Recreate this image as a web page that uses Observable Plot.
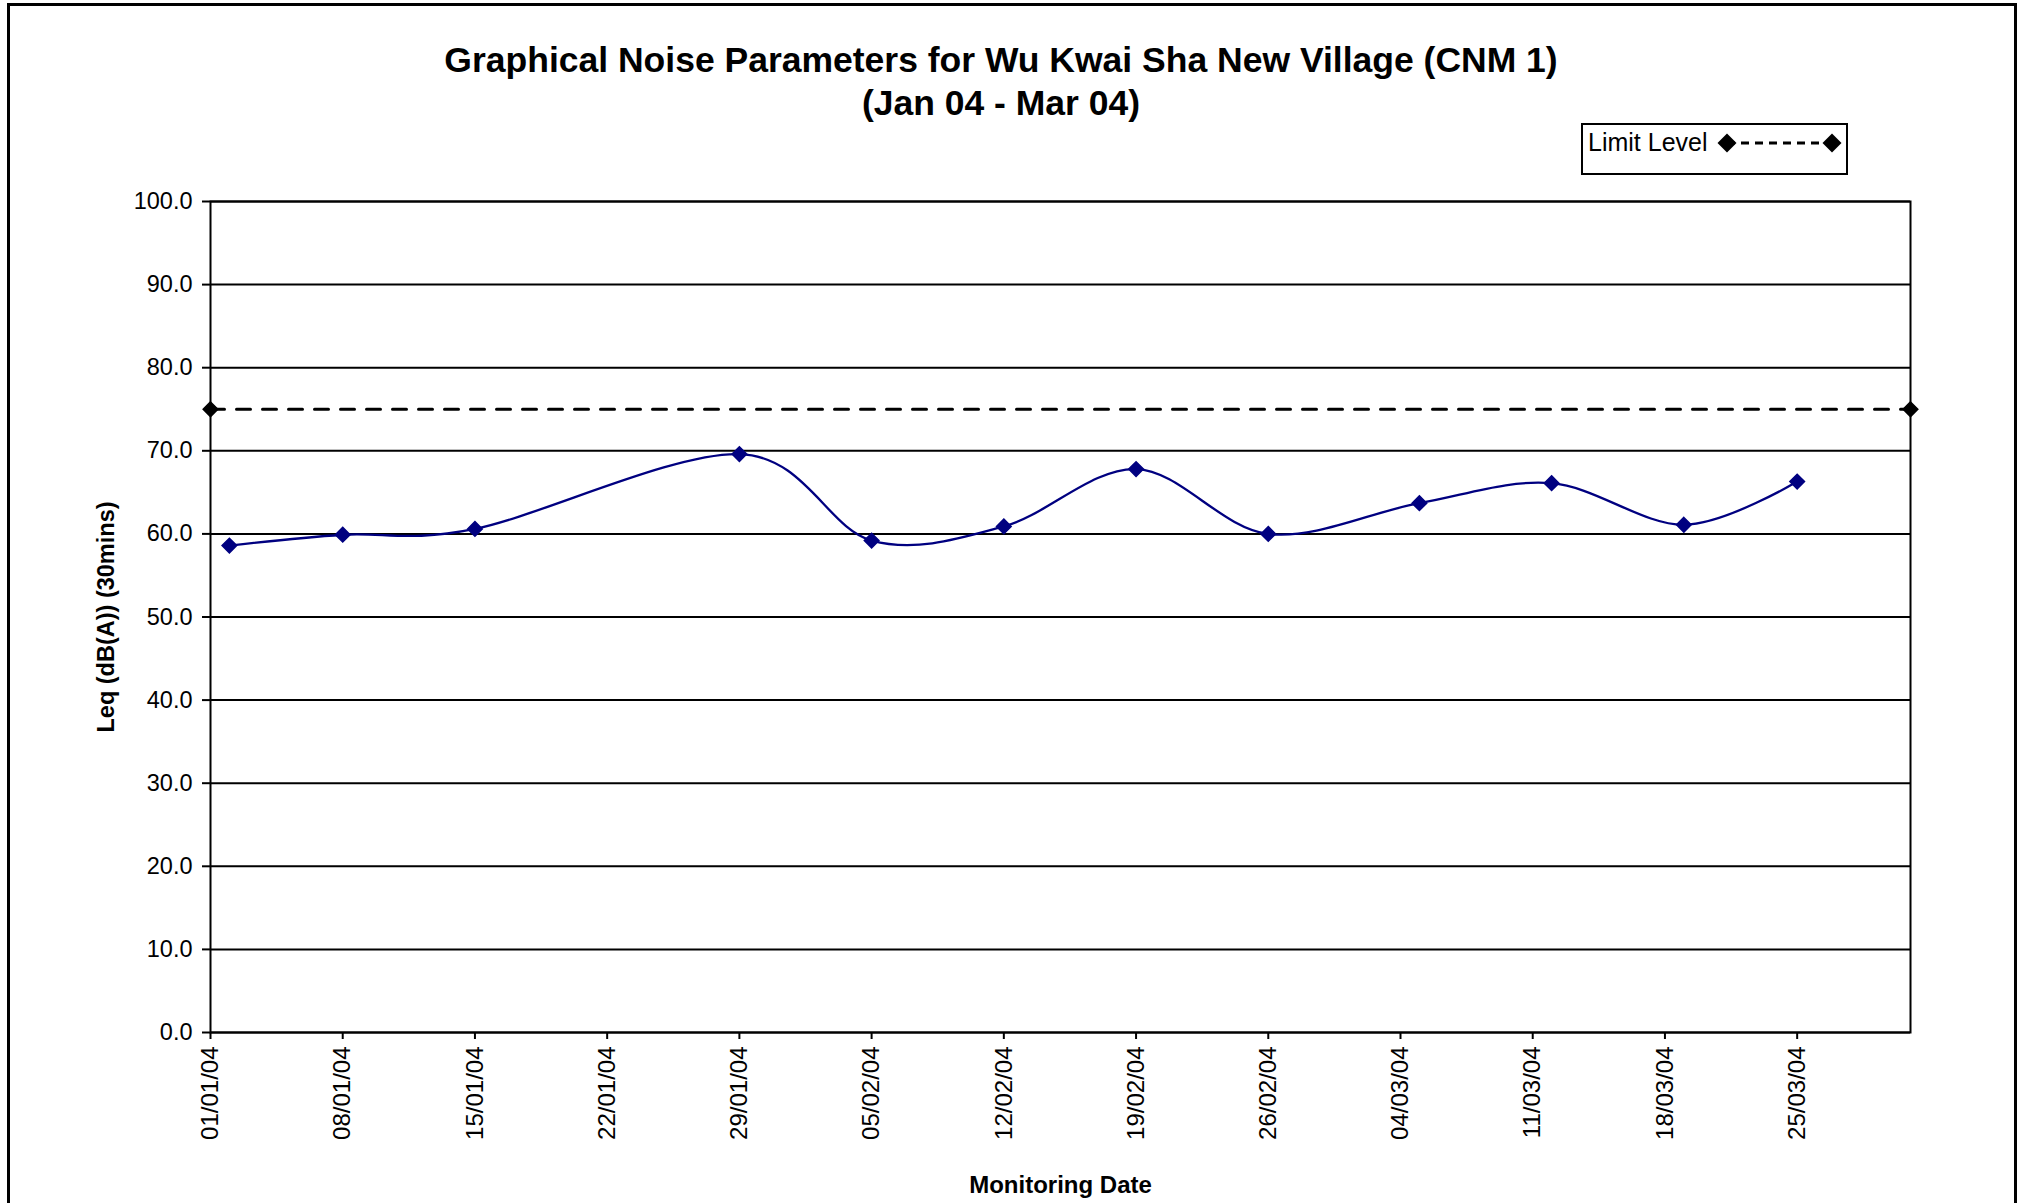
<!DOCTYPE html>
<html>
<head>
<meta charset="utf-8">
<script src="https://cdn.jsdelivr.net/npm/d3@7"></script>
<script src="https://cdn.jsdelivr.net/npm/@observablehq/plot@0.6"></script>
<style>
  html, body { margin: 0; padding: 0; background: white; }
  #page { position: relative; width: 2022px; height: 1203px; overflow: hidden; font-family: "Liberation Sans", Arial, sans-serif; color: black; }
  #border { position: absolute; left: 7px; top: 3px; width: 2010px; height: 1220px; border: 3px solid black; box-sizing: border-box; z-index: 3; pointer-events: none; }
  .title { position: absolute; left: 1001px; transform: translateX(-50%); white-space: nowrap; font-weight: bold; font-size: 35.5px; line-height: 36px; z-index: 2; }
  #legend { position: absolute; left: 1581px; top: 123px; width: 267px; height: 52px; border: 2px solid black; box-sizing: border-box; background: white; z-index: 2; }
  #legend span { position: absolute; left: 5px; top: 3px; font-size: 25px; line-height: 28px; white-space: nowrap; }
  #legend svg { position: absolute; left: 0; top: 0; }
  #chart { position: absolute; left: 0; top: 0; z-index: 1; }
</style>
</head>
<body>
<div id="page">
  <div id="chart"></div>
  <div class="title" style="top:42px">Graphical Noise Parameters for Wu Kwai Sha New Village (CNM 1)</div>
  <div class="title" style="top:85px">(Jan 04 - Mar 04)</div>
  <div id="legend"><span>Limit Level</span></div>
  <div id="border"></div>
</div>
<script>
// ---- data ----
const monitoringDates = ["2004-01-02", "2004-01-08", "2004-01-15", "2004-01-29", "2004-02-05", "2004-02-12",
                         "2004-02-19", "2004-02-26", "2004-03-05", "2004-03-12", "2004-03-19", "2004-03-25"];
const leqValues = [58.6, 59.9, 60.6, 69.6, 59.2, 60.9, 67.8, 60.0, 63.7, 66.1, 61.1, 66.3];
const limitDates = ["2004-01-01", "2004-03-31"];
const limitValues = [75, 75];
const yTickValues = [0, 10, 20, 30, 40, 50, 60, 70, 80, 90, 100];
const xTickDates = ["2004-01-01", "2004-01-08", "2004-01-15", "2004-01-22", "2004-01-29", "2004-02-05", "2004-02-12",
                    "2004-02-19", "2004-02-26", "2004-03-04", "2004-03-11", "2004-03-18", "2004-03-25"];
const xDomain = ["2004-01-01", "2004-03-31"];
const yLabel = "Leq (dB(A)) (30mins)";
const xLabel = "Monitoring Date";
const legendLabel = "Limit Level";

// ---- tables ----
const series = monitoringDates.map((d, i) => ({date: new Date(d), leq: leqValues[i]}));
const limit = limitDates.map((d, i) => ({date: new Date(d), leq: limitValues[i]}));

const chart = Plot.plot({
  width: 2022,
  height: 1203,
  marginTop: 201,
  marginLeft: 210,
  marginRight: 112,
  marginBottom: 171,
  x: {type: "utc", domain: xDomain.map(d => new Date(d))},
  y: {domain: [0, 100]},
  style: {fontFamily: "'Liberation Sans', Arial, sans-serif", color: "black", background: "transparent", overflow: "visible"},
  marks: [
    Plot.gridY({ticks: yTickValues, stroke: "black", strokeOpacity: 1, strokeWidth: 2}),
    Plot.frame({stroke: "black", strokeWidth: 2}),
    Plot.axisY({ticks: yTickValues, tickFormat: d => d.toFixed(1), fontSize: 23.5, tickSize: 8, tickPadding: 10, strokeWidth: 2, label: null}),
    Plot.axisX({ticks: xTickDates.map(d => new Date(d)), tickFormat: d3.utcFormat("%d/%m/%y"), tickRotate: -90, fontSize: 24, tickSize: 7, tickPadding: 7, strokeWidth: 2, label: null}),
    Plot.line(limit, {x: "date", y: "leq", stroke: "black", strokeWidth: 3, strokeDasharray: "14,12"}),
    Plot.dot(limit, {x: "date", y: "leq", symbol: "diamond2", fill: "black", stroke: "black", r: 6.6}),
    Plot.line(series, {x: "date", y: "leq", stroke: "#000080", strokeWidth: 2.3, curve: "cardinal", tension: 0}),
    Plot.dot(series, {x: "date", y: "leq", symbol: "diamond2", fill: "#000080", stroke: "#000080", r: 6.6}),
    Plot.text([yLabel], {frameAnchor: "left", dx: -104, rotate: -90, textAnchor: "middle", fontSize: 23.5, fontWeight: "bold"}),
    Plot.text([xLabel], {frameAnchor: "bottom", dy: 160, fontSize: 24, fontWeight: "bold"})
  ]
});
document.getElementById("chart").appendChild(chart);

// legend swatch
document.querySelector("#legend span").textContent = legendLabel;
const ns = "http://www.w3.org/2000/svg";
const sw = document.createElementNS(ns, "svg");
sw.setAttribute("width", 263); sw.setAttribute("height", 48);
const y0 = 18, xa = 144, xb = 249, h = 9.5;
const ln = document.createElementNS(ns, "line");
ln.setAttribute("x1", xa); ln.setAttribute("x2", xb); ln.setAttribute("y1", y0); ln.setAttribute("y2", y0);
ln.setAttribute("stroke", "black"); ln.setAttribute("stroke-width", 3); ln.setAttribute("stroke-dasharray", "8,6");
sw.appendChild(ln);
for (const cx of [xa, xb]) {
  const p = document.createElementNS(ns, "path");
  p.setAttribute("d", `M${cx},${y0 - h}L${cx + h},${y0}L${cx},${y0 + h}L${cx - h},${y0}Z`);
  p.setAttribute("fill", "black");
  sw.appendChild(p);
}
document.getElementById("legend").appendChild(sw);
</script>
</body>
</html>
